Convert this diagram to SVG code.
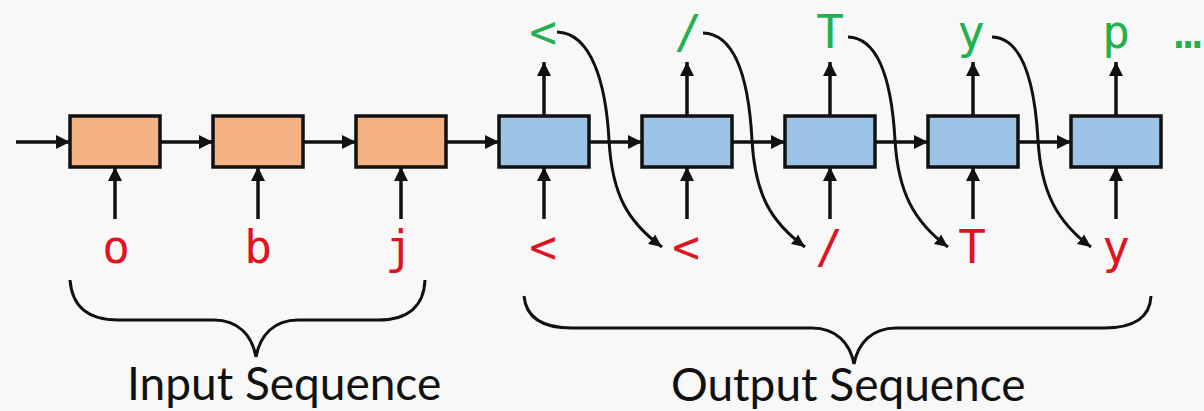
<svg xmlns="http://www.w3.org/2000/svg" width="1204" height="411" viewBox="0 0 1204 411">
  <style>
    .enc { fill: #f4b183; stroke: #111; stroke-width: 3.5; }
    .dec { fill: #9dc3e6; stroke: #111; stroke-width: 3.5; }
    .arrow { stroke: #111; stroke-width: 3.5; fill: none; marker-end: url(#head); }
    .feed { stroke: #111; stroke-width: 3; fill: none; marker-end: url(#headThin); }
    .brace { stroke: #111; stroke-width: 3; fill: none; }
    .tok { font-family: "DejaVu Sans Mono", "Liberation Mono", monospace; font-size: 46px; text-anchor: middle; }
    .in { fill: #e0141e; }
    .out { fill: #22b14c; }
    .caption { font-family: Lato, "Open Sans", sans-serif; font-size: 46px; fill: #111; }
  </style>
  <defs>
    <marker id="head" markerUnits="userSpaceOnUse" markerWidth="14" markerHeight="14" viewBox="0 0 12 12" refX="12" refY="6" orient="auto">
      <path d="M0,0 L12,6 L0,12 Z" fill="#111"/>
    </marker>
    <marker id="headThin" markerUnits="userSpaceOnUse" markerWidth="13" markerHeight="13" viewBox="0 0 12 12" refX="12" refY="6" orient="auto">
      <path d="M0,0.5 L12,6 L0,11.5 Z" fill="#111"/>
    </marker>
  </defs>

  <rect width="1204" height="411" fill="#f8f8f8"/>

  <!-- connectors -->
  <g id="connectors">
    <!-- recurrent state -->
    <line class="arrow" x1="16" y1="142" x2="70" y2="142"/>
    <line class="arrow" x1="160" y1="142" x2="213" y2="142"/>
    <line class="arrow" x1="303" y1="142" x2="356" y2="142"/>
    <line class="arrow" x1="446" y1="142" x2="499" y2="142"/>
    <line class="arrow" x1="589" y1="142" x2="642" y2="142"/>
    <line class="arrow" x1="732" y1="142" x2="785" y2="142"/>
    <line class="arrow" x1="875" y1="142" x2="928" y2="142"/>
    <line class="arrow" x1="1018" y1="142" x2="1071" y2="142"/>
    <!-- inputs -->
    <line class="arrow" x1="115" y1="219" x2="115" y2="167"/>
    <line class="arrow" x1="258" y1="219" x2="258" y2="167"/>
    <line class="arrow" x1="401" y1="219" x2="401" y2="167"/>
    <line class="arrow" x1="544" y1="219" x2="544" y2="167"/>
    <line class="arrow" x1="687" y1="219" x2="687" y2="167"/>
    <line class="arrow" x1="830" y1="219" x2="830" y2="167"/>
    <line class="arrow" x1="973" y1="219" x2="973" y2="167"/>
    <line class="arrow" x1="1116" y1="219" x2="1116" y2="167"/>
    <!-- outputs -->
    <line class="arrow" x1="544" y1="116" x2="544" y2="62"/>
    <line class="arrow" x1="687" y1="116" x2="687" y2="62"/>
    <line class="arrow" x1="830" y1="116" x2="830" y2="62"/>
    <line class="arrow" x1="973" y1="116" x2="973" y2="62"/>
    <line class="arrow" x1="1116" y1="116" x2="1116" y2="62"/>
    <!-- each output fed back as the next input -->
    <path class="feed" d="M557,32 C592,33 606,85 609,140 S628,222 662,247"/>
    <path class="feed" d="M703,33 C737,34 749,85 752,140 S771,222 805,247"/>
    <path class="feed" d="M848,37 C881,38 892,88 895,140 S914,222 948,247"/>
    <path class="feed" d="M992,37 C1024,38 1035,88 1038,140 S1057,222 1091,247"/>
  </g>

  <!-- encoder cells -->
  <g id="enc1"><rect class="enc" x="70" y="116" width="90" height="51"/></g>
  <g id="enc2"><rect class="enc" x="213" y="116" width="90" height="51"/></g>
  <g id="enc3"><rect class="enc" x="356" y="116" width="90" height="51"/></g>
  <!-- decoder cells -->
  <g id="dec1"><rect class="dec" x="499" y="116" width="90" height="51"/></g>
  <g id="dec2"><rect class="dec" x="642" y="116" width="90" height="51"/></g>
  <g id="dec3"><rect class="dec" x="785" y="116" width="90" height="51"/></g>
  <g id="dec4"><rect class="dec" x="928" y="116" width="90" height="51"/></g>
  <g id="dec5"><rect class="dec" x="1071" y="116" width="90" height="51"/></g>

  <!-- input tokens -->
  <g id="inputs" class="tok in">
    <text x="116" y="263">o</text>
    <text x="258" y="263">b</text>
    <text x="399" y="263">j</text>
    <text x="543" y="263">&lt;</text>
    <text x="686" y="263">&lt;</text>
    <text x="829" y="263">/</text>
    <text x="972" y="263">T</text>
    <text x="1116" y="263">y</text>
  </g>

  <!-- output tokens -->
  <g id="outputs" class="tok out">
    <text x="543" y="48">&lt;</text>
    <text x="688" y="48">/</text>
    <text x="830" y="48">T</text>
    <text x="971" y="48">y</text>
    <text x="1116" y="48">p</text>
    <text x="1188" y="48">…</text>
  </g>

  <!-- braces and captions -->
  <g id="input-seq">
    <path class="brace" d="M70,280 C72,306 88,320 118,320 L214,320 C238,320 252,335 256,357 C260,335 274,320 298,320 L378,320 C408,320 424,306 425,280"/>
    <text class="caption" x="127" y="400">Input Sequence</text>
  </g>
  <g id="output-seq">
    <path class="brace" d="M524,296 C526,318 542,328 572,328 L812,328 C836,328 850,343 854,364 C858,343 872,328 896,328 L1104,328 C1134,328 1150,318 1151,296"/>
    <text class="caption" x="671" y="401">Output Sequence</text>
  </g>
</svg>
